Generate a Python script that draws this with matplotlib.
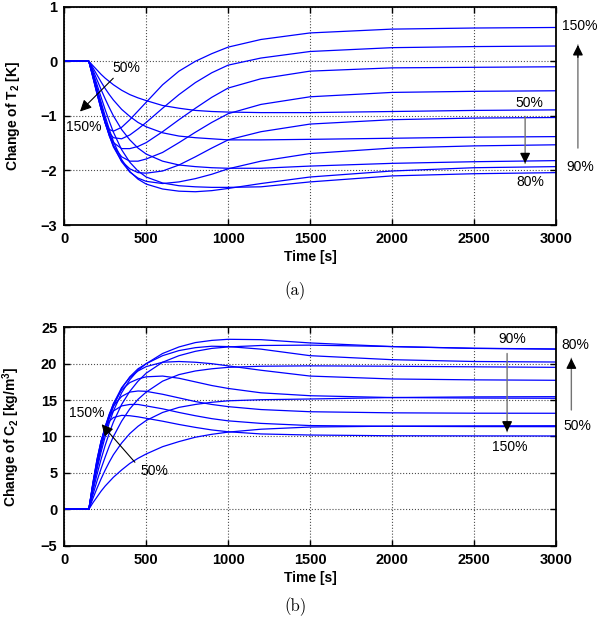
# Step responses of T2 and C2 for different parameter levels (50% .. 150%)

import matplotlib.pyplot as plt

plt.rcParams['font.family'] = ['Liberation Sans', 'DejaVu Sans']
plt.rcParams['mathtext.fontset'] = 'custom'
plt.rcParams['mathtext.rm'] = 'Liberation Sans:bold'
plt.rcParams['mathtext.bf'] = 'Liberation Sans:bold'
plt.rcParams['mathtext.it'] = 'Liberation Sans:bold'

time = [0, 150, 175, 200, 225, 250, 275, 300, 350, 400, 450, 500, 600, 700,
        800, 900, 1000, 1200, 1500, 2000, 2500, 3000]

levels = ['50%', '60%', '70%', '80%', '90%', '100%', '110%', '120%', '130%', '140%', '150%']

# Change of T2 [K]
t2_50 = [0, 0, -0.08, -0.16, -0.24, -0.31, -0.37, -0.43, -0.53, -0.61, -0.67, -0.72, -0.81, -0.86,
         -0.90, -0.92, -0.93, -0.94, -0.94, -0.92, -0.90, -0.89]
t2_60 = [0, 0, -0.12, -0.25, -0.38, -0.50, -0.61, -0.71, -0.88, -1.01, -1.12, -1.20, -1.31, -1.37,
         -1.40, -1.42, -1.44, -1.44, -1.43, -1.41, -1.39, -1.38]
t2_70 = [0, 0, -0.16, -0.34, -0.52, -0.69, -0.85, -1.00, -1.25, -1.44, -1.59, -1.70, -1.83, -1.90,
         -1.93, -1.95, -1.96, -1.96, -1.92, -1.87, -1.84, -1.82]
t2_80 = [0, 0, -0.20, -0.43, -0.66, -0.89, -1.10, -1.30, -1.62, -1.85, -2.01, -2.12, -2.23, -2.28,
         -2.30, -2.31, -2.31, -2.30, -2.21, -2.10, -2.06, -2.04]
t2_90 = [0, 0, -0.23, -0.49, -0.75, -1.01, -1.25, -1.47, -1.80, -2.02, -2.16, -2.25, -2.34, -2.38,
         -2.39, -2.37, -2.33, -2.24, -2.12, -2.01, -1.95, -1.93]
t2_100 = [0, 0, -0.25, -0.52, -0.80, -1.07, -1.32, -1.54, -1.84, -2.03, -2.14, -2.20, -2.24, -2.21,
          -2.15, -2.07, -1.97, -1.83, -1.69, -1.59, -1.55, -1.53]
t2_110 = [0, 0, -0.26, -0.54, -0.83, -1.11, -1.36, -1.57, -1.83, -1.97, -2.04, -2.05, -2.01, -1.90,
          -1.75, -1.59, -1.44, -1.29, -1.15, -1.07, -1.04, -1.03]
t2_120 = [0, 0, -0.27, -0.56, -0.85, -1.13, -1.37, -1.55, -1.75, -1.83, -1.83, -1.79, -1.67, -1.49,
          -1.30, -1.12, -0.96, -0.79, -0.65, -0.57, -0.55, -0.54]
t2_130 = [0, 0, -0.28, -0.58, -0.87, -1.14, -1.35, -1.49, -1.60, -1.60, -1.56, -1.49, -1.29, -1.07,
          -0.86, -0.66, -0.49, -0.32, -0.18, -0.12, -0.11, -0.10]
t2_140 = [0, 0, -0.29, -0.59, -0.88, -1.13, -1.31, -1.40, -1.42, -1.35, -1.24, -1.12, -0.86, -0.61,
          -0.39, -0.21, -0.07, 0.06, 0.18, 0.25, 0.27, 0.28]
t2_150 = [0, 0, -0.30, -0.60, -0.88, -1.10, -1.25, -1.28, -1.21, -1.07, -0.91, -0.75, -0.43, -0.18,
          0.00, 0.14, 0.26, 0.40, 0.52, 0.59, 0.61, 0.62]

# Change of C2 [kg/m3]
c2_50 = [0, 0, 0.9, 1.7, 2.5, 3.2, 3.8, 4.4, 5.4, 6.3, 7.0, 7.6, 8.6, 9.3,
         9.9, 10.3, 10.6, 11.0, 11.3, 11.42, 11.46, 11.48]
c2_60 = [0, 0, 1.5, 2.9, 4.2, 5.4, 6.5, 7.5, 9.1, 10.4, 11.4, 12.2, 13.3, 14.0,
         14.4, 14.7, 14.9, 15.05, 15.15, 15.35, 15.44, 15.47]
c2_70 = [0, 0, 2.0, 3.9, 5.6, 7.2, 8.7, 10.0, 12.1, 13.8, 15.1, 16.1, 17.6, 18.5,
         19.0, 19.3, 19.5, 19.65, 19.7, 19.65, 19.57, 19.5]
c2_80 = [0, 0, 2.5, 4.8, 6.9, 8.8, 10.5, 12.0, 14.4, 16.2, 17.6, 18.7, 20.2, 21.1,
         21.7, 22.1, 22.3, 22.5, 22.55, 22.35, 22.12, 22.02]
c2_90 = [0, 0, 2.9, 5.5, 7.9, 10.0, 11.9, 13.5, 16.0, 17.8, 19.1, 20.0, 21.4, 22.3,
         22.9, 23.2, 23.35, 23.3, 22.85, 22.35, 22.1, 22.0]
c2_100 = [0, 0, 3.1, 5.9, 8.4, 10.6, 12.5, 14.1, 16.6, 18.2, 19.3, 20.0, 21.1, 21.8,
          22.2, 22.4, 22.35, 22.0, 21.1, 20.55, 20.3, 20.23]
c2_110 = [0, 0, 3.3, 6.2, 8.8, 11.0, 12.9, 14.5, 16.7, 18.1, 19.0, 19.6, 20.2, 20.3,
          20.2, 20.0, 19.7, 19.1, 18.3, 17.9, 17.78, 17.72]
c2_120 = [0, 0, 3.4, 6.4, 9.1, 11.3, 13.1, 14.5, 16.4, 17.4, 17.9, 18.2, 18.3, 18.0,
          17.5, 17.0, 16.6, 16.0, 15.6, 15.35, 15.28, 15.25]
c2_130 = [0, 0, 3.5, 6.6, 9.3, 11.4, 13.0, 14.2, 15.5, 16.1, 16.25, 16.2, 15.8, 15.3,
          14.8, 14.4, 14.1, 13.7, 13.4, 13.25, 13.2, 13.19]
c2_140 = [0, 0, 3.6, 6.8, 9.4, 11.3, 12.7, 13.5, 14.2, 14.4, 14.4, 14.2, 13.8, 13.3,
          12.85, 12.45, 12.15, 11.8, 11.5, 11.4, 11.36, 11.35]
c2_150 = [0, 0, 3.7, 6.9, 9.4, 11.1, 12.1, 12.6, 12.9, 12.85, 12.7, 12.5, 12.1, 11.65,
          11.25, 10.9, 10.65, 10.35, 10.2, 10.1, 10.08, 10.07]

t2_curves = [t2_50, t2_60, t2_70, t2_80, t2_90, t2_100, t2_110, t2_120, t2_130, t2_140, t2_150]
c2_curves = [c2_50, c2_60, c2_70, c2_80, c2_90, c2_100, c2_110, c2_120, c2_130, c2_140, c2_150]

fig = plt.figure(figsize=(6.12, 6.24), dpi=100)
ax1 = fig.add_axes([0.105, 0.6394, 0.8034, 0.3498])
ax2 = fig.add_axes([0.105, 0.1255, 0.8034, 0.35])


def style_axes(ax, yticks):
    ax.set_xlim(0, 3000)
    ax.set_xticks(range(0, 3001, 500))
    ax.set_ylim(yticks[0], yticks[-1])
    ax.set_yticks(yticks)
    ax.grid(True, linestyle=':', color='0.3', linewidth=0.8)
    ax.tick_params(direction='in', top=True, right=True, length=4, width=1, pad=5,
                   labelsize=10.5)
    for lab in ax.get_xticklabels() + ax.get_yticklabels():
        lab.set_fontweight('bold')
    for sp in ax.spines.values():
        sp.set_linewidth(1.3)
    ax.set_xlabel('Time [s]', fontsize=10, fontweight='bold', labelpad=3)


def vert_arrow(ax, x, y_from, y_to):
    # grey shaft with a black head, like the original annotation arrows
    ax.annotate('', xy=(x, y_to), xytext=(x, y_from), annotation_clip=False,
                arrowprops=dict(arrowstyle='-', color='0.45', lw=1.0, shrinkA=0, shrinkB=0))
    ax.annotate('', xy=(x, y_to), xytext=(x, y_to - 0.12 * (y_to - y_from)), annotation_clip=False,
                arrowprops=dict(arrowstyle='-|>', color='k', lw=1.0, mutation_scale=15,
                                shrinkA=0, shrinkB=0))


big_arrow = dict(arrowstyle='-|>', color='k', lw=0.8, mutation_scale=17, shrinkA=0, shrinkB=0)

# (a) temperature
for y in t2_curves:
    ax1.plot(time, y, color='#0000ff', linewidth=0.9)
style_axes(ax1, [-3, -2, -1, 0, 1])
ax1.set_ylabel(r'Change of T$_\mathbf{2}$ [K]', fontsize=10, fontweight='bold')
ax1.yaxis.set_label_coords(-0.085, 0.5)

ax1.text(382, -0.12, '50%', fontsize=10, ha='center', va='center')
ax1.annotate('', xy=(96, -0.92), xytext=(299, -0.31), arrowprops=big_arrow)
ax1.text(120, -1.2, '150%', fontsize=10, ha='center', va='center')
ax1.text(2840, -0.76, '50%', fontsize=10, ha='center', va='center')
vert_arrow(ax1, 2812, -1.01, -1.87)
ax1.text(2843, -2.22, '80%', fontsize=10, ha='center', va='center')
ax1.text(3143, 0.65, '150%', fontsize=10, ha='center', va='center')
ax1.text(3150, -1.93, '90%', fontsize=10, ha='center', va='center')
vert_arrow(ax1, 3134, -1.59, 0.30)

# (b) concentration
for y in c2_curves:
    ax2.plot(time, y, color='#0000ff', linewidth=0.9)
style_axes(ax2, [-5, 0, 5, 10, 15, 20, 25])
ax2.set_ylabel(r'Change of C$_\mathbf{2}$ [kg/m$^\mathbf{3}$]', fontsize=10, fontweight='bold')
ax2.yaxis.set_label_coords(-0.085, 0.5)

ax2.text(137, 13.27, '150%', fontsize=10, ha='center', va='center')
ax2.annotate('', xy=(228, 11.68), xytext=(431, 6.46), arrowprops=big_arrow)
ax2.text(547, 5.26, '50%', fontsize=10, ha='center', va='center')
ax2.text(2733, 23.35, '90%', fontsize=10, ha='center', va='center')
vert_arrow(ax2, 2702, 21.4, 10.66)
ax2.text(2718, 8.6, '150%', fontsize=10, ha='center', va='center')
ax2.text(3120, 22.57, '80%', fontsize=10, ha='center', va='center')
vert_arrow(ax2, 3094, 13.64, 20.74)
ax2.text(3130, 11.49, '50%', fontsize=10, ha='center', va='center')

# sub-figure captions
fig.text(295 / 612, 1 - 291 / 624, '(a)', fontsize=12, family='cmr10', ha='center', va='center')
fig.text(295 / 612, 1 - 607 / 624, '(b)', fontsize=12, family='cmr10', ha='center', va='center')

fig.savefig('out.png', dpi=100)
